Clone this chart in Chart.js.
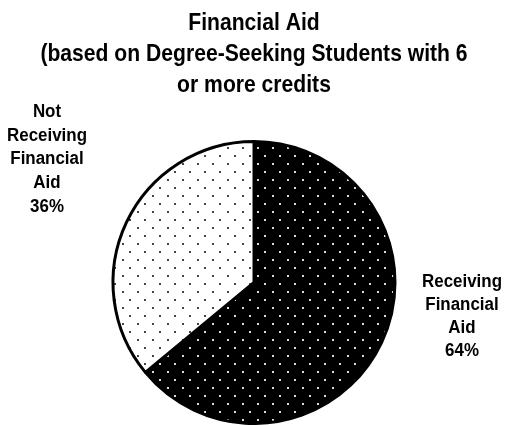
<!DOCTYPE html>
<html>
<head>
<meta charset="utf-8">
<script src="https://cdn.jsdelivr.net/npm/chart.js@4/dist/chart.umd.min.js"></script>
<style>
  html, body { margin: 0; padding: 0; background: #fff; }
  #wrap { width: 508px; height: 425px; }
</style>
</head>
<body>
<div id="wrap"><canvas id="aid-chart"></canvas></div>
<script>
const titleLines = ['Financial Aid', '(based on Degree-Seeking Students with 6', 'or more credits'];
const categories = [['Receiving', 'Financial', 'Aid'], ['Not', 'Receiving', 'Financial', 'Aid']];
const shares = [64, 36];

const FONT = "'Liberation Sans', Arial, sans-serif";

// dotted fill: staggered grid of small dots
function dotPattern(bg, dot) {
    const tile = document.createElement('canvas');
    tile.width = 15;
    tile.height = 16;
    const c = tile.getContext('2d');
    c.fillStyle = bg;
    c.fillRect(0, 0, 15, 16);
    c.fillStyle = dot;
    c.fillRect(2, 3, 2, 2);
    c.fillRect(9, 11, 2, 2);
    return c.createPattern(tile, 'repeat');
}

// narrow bold text: squeeze horizontally around the anchor
function narrowText(ctx, text, x, y, squeeze) {
    ctx.save();
    ctx.translate(x, y);
    ctx.scale(squeeze, 1);
    ctx.fillText(text, 0, 0);
    ctx.restore();
}

const condensedTitle = {
    id: 'condensedTitle',
    afterDraw(chart, args, opts) {
        const ctx = chart.ctx;
        ctx.save();
        ctx.font = 'bold ' + opts.size + 'px ' + FONT;
        ctx.fillStyle = '#000';
        ctx.textAlign = 'center';
        ctx.textBaseline = 'alphabetic';
        opts.lines.forEach((line, i) => narrowText(ctx, line, chart.width / 2, opts.baseline + i * opts.lh, opts.squeeze));
        ctx.restore();
    }
};

// slice labels with percentage, placed relative to each arc's centre
const sliceLabels = {
    id: 'sliceLabels',
    afterDatasetsDraw(chart, args, opts) {
        const ctx = chart.ctx;
        const meta = chart.getDatasetMeta(0);
        const values = chart.data.datasets[0].data;
        const total = values.reduce((a, b) => a + b, 0);
        ctx.save();
        ctx.font = 'bold ' + opts.size + 'px ' + FONT;
        ctx.fillStyle = '#000';
        ctx.textAlign = 'center';
        ctx.textBaseline = 'middle';
        meta.data.forEach((arc, i) => {
            const lines = chart.data.labels[i].concat([Math.round(values[i] / total * 100) + '%']);
            const off = opts.offsets[i];
            const cx = arc.x + off.dx;
            const cy = arc.y + off.dy;
            const top = cy - (lines.length - 1) * off.lh / 2;
            lines.forEach((line, j) => narrowText(ctx, line, cx, top + j * off.lh, opts.squeeze));
        });
        ctx.restore();
    }
};

const ctxAid = document.getElementById('aid-chart').getContext('2d');
new Chart(ctxAid, {
    type: 'pie',
    data: {
        labels: categories,
        datasets: [{
            data: shares,
            backgroundColor: [dotPattern('#000', '#dcdcdc'), dotPattern('#fff', '#444')],
            borderColor: '#000',
            borderWidth: 3
        }]
    },
    options: {
        responsive: true,
        maintainAspectRatio: false,
        animation: false,
        events: [],
        layout: { padding: { top: 140, left: 0, right: 0, bottom: 0 } },
        plugins: {
            legend: { display: false },
            tooltip: { enabled: false },
            title: { display: false },
            condensedTitle: { lines: titleLines, size: 24, squeeze: 0.88, baseline: 30, lh: 31 },
            sliceLabels: {
                size: 18,
                squeeze: 0.94,
                offsets: [{ dx: 208, dy: 34, lh: 22.7 }, { dx: -207, dy: -123, lh: 23.7 }]
            }
        }
    },
    plugins: [condensedTitle, sliceLabels]
});
</script>
</body>
</html>
